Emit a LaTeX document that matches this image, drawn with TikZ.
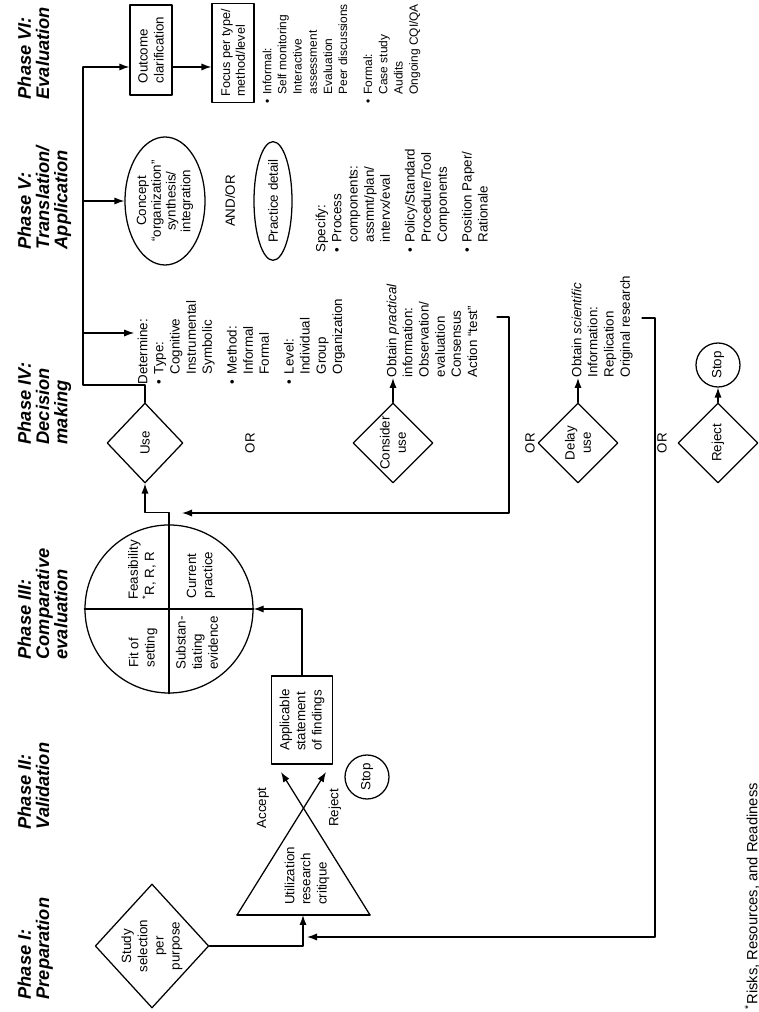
\documentclass[tikz,border=0pt]{standalone}
\usepackage{fontspec}
\setmainfont{Liberation Sans}
\usetikzlibrary{shapes.geometric,arrows.meta}

\newcommand{\bul}{\makebox[0.75em][l]{\textbullet}}
\newcommand{\ind}{\hspace*{0.75em}}

\begin{document}
\begin{tikzpicture}[line cap=round, line join=round, x=0.25mm, y=0.25mm,
        rotate=90, transform shape, line width=0.9pt,
        >={Latex[length=2.5mm,width=1.8mm]},
        every node/.style={font=\fontsize{9.5}{11.5}\selectfont},
        phase/.style={anchor=north west, align=left, inner sep=0pt,
            font=\fontsize{13}{13}\selectfont\bfseries\itshape},
        lst/.style={anchor=north west, align=left, inner sep=0pt},
        decision/.style={diamond, draw, align=center, inner sep=0pt,
            minimum width=2cm, minimum height=2cm},
        rbox/.style={rectangle, draw, align=left, inner sep=2pt},
        oval/.style={ellipse, draw, align=center, inner sep=0pt},
        halt/.style={circle, draw, inner sep=0pt, minimum size=1.1cm}]

    \useasboundingbox (0,0) rectangle (1012,-759);

    % phase headings
    \node[phase] (ph1) at (12,-17) {Phase I:\\Preparation};
    \node[phase] (ph2) at (182,-17) {Phase II:\\Validation};
    \node[phase] (ph3) at (352,-17) {Phase III:\\Comparative\\evaluation};
    \node[phase] (ph4) at (567,-17) {Phase IV:\\Decision\\making};
    \node[phase] (ph5) at (762,-17) {Phase V:\\Translation/\\Application};
    \node[phase] (ph6) at (912,-17) {Phase VI:\\Evaluation};

    % preparation and validation
    \node[decision, minimum width=3.1cm, minimum height=2.8cm] (study) at (66,-152) {Study\\selection\\per\\purpose};
    \coordinate (tri1) at (97,-237);
    \coordinate (tri2) at (97,-370);
    \coordinate (triin) at (97,-303);
    \coordinate (acc) at (240,-281);
    \coordinate (rej) at (240,-326);
    \node[align=left] (critique) at (136,-307) {Utilization\\research\\critique};
    \node (lacc) at (204,-263) {Accept};
    \node (lrej) at (204,-335) {Reject};
    \node[rbox, minimum width=2.2cm, minimum height=1.525cm] (applic) at (292,-302) {Applicable\\statement\\of findings};
    \node[halt] (stop2) at (235,-367) {Stop};

    \draw (tri1) -- (tri2);
    \draw[->] (tri2) -- (acc);
    \draw[->] (tri1) -- (rej);
    \draw[->] (study.south) |- (triin);

    % comparative evaluation
    \node[circle, draw, inner sep=0pt, minimum size=4.2cm] (cmp) at (403,-169) {};
    \draw (cmp.west) -- (cmp.east);
    \draw (cmp.north) -- (cmp.south);
    \node[align=left] (fit) at (364,-143) {Fit of\\setting};
    \node[align=left] (feas) at (442,-142) {Feasibility\\\textsuperscript{*}R, R, R};
    \node[align=left] (subst) at (369,-197) {Substan-\\tiating\\evidence};
    \node[align=left] (curr) at (437,-201) {Current\\practice};
    \draw[->] (applic.east) -| (cmp.south);

    % decision making
    \node[decision, minimum height=1.9cm] (use) at (569,-145) {Use};
    \node (or1) at (569,-250) {OR};
    \node[decision] (consider) at (569,-393) {Consider\\use};
    \node (or2) at (569,-530) {OR};
    \node[decision] (delay) at (569,-578) {Delay\\use};
    \node (or3) at (569,-662) {OR};
    \node[decision] (reject) at (569,-718) {Reject};
    \node[halt] (stop4) at (647,-718) {Stop};

    \node[lst] (det) at (627,-137) {Determine:\\
        \bul Type:\\ \ind Cognitive\\ \ind Instrumental\\ \ind Symbolic\\[6pt]
        \bul Method:\\ \ind Informal\\ \ind Formal\\[6pt]
        \bul Level:\\ \ind Individual\\ \ind Group\\ \ind Organization};
    \node[lst] (prac) at (634,-386) {Obtain \textit{practical}\\information:\\Observation/\\evaluation\\Consensus\\Action ``test''};
    \node[lst] (sci) at (634,-571) {Obtain \textit{scientific}\\Information:\\Replication\\Original research};
    \coordinate (actend) at (695,-497);
    \coordinate (orend) at (694,-642);
    \coordinate (cret) at (499,-182);
    \coordinate (retin) at (75,-307);

    \draw[->] (consider.east) -- (consider.east -| prac.west);
    \draw[->] (delay.east) -- (delay.east -| sci.west);
    \draw[->] (reject.east) -- (stop4);
    \draw[->] (cmp.east) -- ++(12,0) |- (use.west);
    \draw[->] (actend) -- ++(0,-12) -| (cret);
    \draw[->] (orend) -- ++(0,-13) -| (retin);

    % translation and evaluation
    \node[oval, minimum width=3.2cm, minimum height=2cm, font=\fontsize{9.5}{10.5}\selectfont] (concept) at (811,-165) {Concept\\``organization''\\synthesis/\\integration};
    \node (andor) at (811,-230) {AND/OR};
    \node[oval, minimum width=2.7cm, minimum height=0.95cm] (detail) at (811,-273) {Practice detail};
    \node[lst] (spec) at (759,-315) {Specify:\\
        \bul Process\\ \ind components:\\ \ind assmnt/plan/\\ \ind intervx/eval\\[6pt]
        \bul Policy/Standard\\ \ind Procedure/Tool\\ \ind Components\\[6pt]
        \bul Position Paper/\\ \ind Rationale};
    \node[rbox, minimum width=2.25cm, minimum height=1.05cm] (outcome) at (962,-151) {Outcome\\clarification};
    \node[rbox, minimum width=2.475cm, minimum height=1.05cm, font=\fontsize{9}{10.5}\selectfont] (focus) at (959,-233) {Focus per type/\\method/level};
    \node[lst, font=\fontsize{8.5}{10.8}\selectfont] (inf) at (908,-262) {\bul Informal:\\
        \ind Self monitoring\\ \ind Interactive\\ \ind assessment\\ \ind Evaluation\\ \ind Peer discussions\\[7pt]
        \bul Formal:\\ \ind Case study\\ \ind Audits\\ \ind Ongoing CQI/QA};

    \coordinate (b0) at (627,-83);
    \coordinate (b1) at (679,-83);
    \coordinate (b2) at (811,-83);
    \coordinate (b3) at (945,-83);
    \draw (use.east) -| (b0) -- (b3);
    \draw[->, shorten >=2pt] (b1) -- (b1 |- det.north);
    \draw[->] (b2) -- (concept.north);
    \draw[->] (b3) -- (b3 |- outcome.north);
    \draw[->] (b3 |- outcome.south) -- (b3 |- focus.north);

    \node[anchor=north west, inner sep=0pt, font=\fontsize{10.5}{12}\selectfont] (note) at (2,-744) {\textsuperscript{*}Risks, Resources, and Readiness};

\end{tikzpicture}
\end{document}
